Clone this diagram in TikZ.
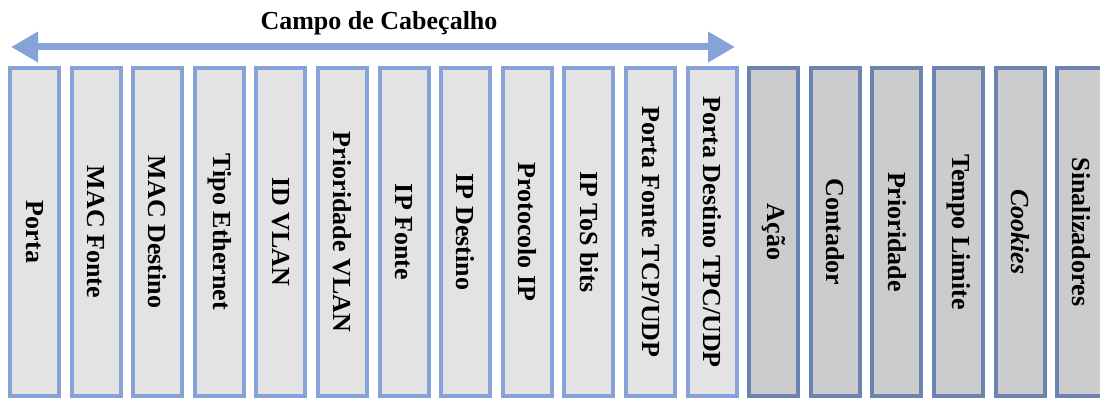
\documentclass[tikz,border=0pt]{standalone}
\usepackage{fontspec}
\setmainfont{Liberation Serif}
\usetikzlibrary{arrows.meta}
\definecolor{hdrline}{HTML}{86A2D8}
\definecolor{hdrfill}{HTML}{E3E3E3}
\definecolor{actline}{HTML}{6B83B0}
\definecolor{actfill}{HTML}{CCCCCC}
\begin{document}
\begin{tikzpicture}[x=1pt,y=1pt,
  fieldbox/.style={draw, line width=4pt, minimum width=49pt, minimum height=328pt,
    inner sep=0pt, font=\fontsize{26}{30}\selectfont\bfseries},
  hdrbox/.style={fieldbox, draw=hdrline, fill=hdrfill},
  actbox/.style={fieldbox, draw=actline, fill=actfill},
  vlabel/.style={rotate=-90, inner sep=0pt, font=\fontsize{26}{30}\selectfont\bfseries},
  span/.style={draw=hdrline, line width=7pt, {Triangle[length=27pt,width=29pt]}-{Triangle[length=27pt,width=29pt]}}
]
\useasboundingbox (0,0) rectangle (1100,399);
\clip (0,0) rectangle (1100,399);

% header-match fields (light) and action fields (dark)
\foreach \i/\txt in {0/Porta, 1/MAC Fonte, 2/MAC Destino, 3/Tipo Ethernet, 4/ID VLAN,
  5/Prioridade VLAN, 6/IP Fonte, 7/IP Destino, 8/Protocolo IP, 9/IP ToS bits,
  10/{Porta Fonte TCP/UDP}, 11/{Porta Destino TPC/UDP}} {
  \node[hdrbox] (f\i) at ({34.5+61.6*\i},167) {};
  \node[vlabel] (t\i) at (f\i) {\txt};
}
\foreach \i/\txt in {12/Ação, 13/Contador, 14/Prioridade, 15/Tempo Limite,
  16/{\itshape Cookies}, 17/Sinalizadores} {
  \node[actbox] (f\i) at ({34.5+61.6*\i},167) {};
  \node[vlabel] (t\i) at (f\i) {\txt};
}

% span of the header fields
\coordinate (aL) at (11,352);
\coordinate (aR) at (735,352);
\draw[span] (aL) -- (aR);
\node[anchor=base, inner sep=0pt, font=\fontsize{26}{30}\selectfont\bfseries] (title) at (379,369) {Campo de Cabeçalho};
\end{tikzpicture}
\end{document}
